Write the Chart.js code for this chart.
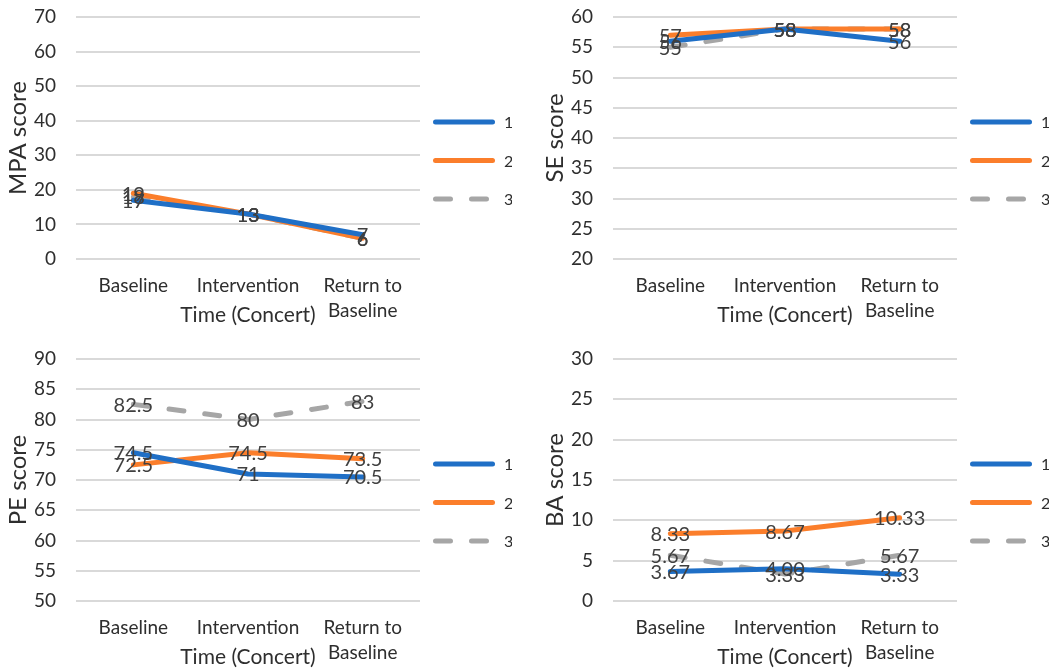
<!DOCTYPE html>
<html>
<head>
<meta charset="utf-8">
<title>Scores over time</title>
<script src="https://cdn.jsdelivr.net/npm/chart.js@4.4.1/dist/chart.umd.min.js"></script>
<style>
  html, body { margin: 0; padding: 0; background: #ffffff; overflow: hidden; }
  #wrap { position: relative; width: 1049px; height: 670px; overflow: hidden; }
  .panel { position: absolute; width: 512px; height: 335px; }
</style>
</head>
<body>
<div id="wrap">
  <div class="panel" style="left:0px;top:0px"><canvas id="mpa" width="512" height="335"></canvas></div>
  <div class="panel" style="left:537px;top:0px"><canvas id="se" width="512" height="335"></canvas></div>
  <div class="panel" style="left:0px;top:342px"><canvas id="pe" width="512" height="335"></canvas></div>
  <div class="panel" style="left:537px;top:342px"><canvas id="ba" width="512" height="335"></canvas></div>
</div>
<script>
// Measurement occasions
const timePoints = ['Baseline', 'Intervention', ['Return to', 'Baseline']];
const seriesNames = ['1', '2', '3'];

// MPA score
const mpa1 = [17, 13, 7];
const mpa2 = [19, 13, 6];
const mpa3 = [18, 13, 6];
const mpaTicks = [0, 70, 10];   // min, max, step

// SE score
const se1 = [56, 58, 56];
const se2 = [57, 58, 58];
const se3 = [55, 58, 58];
const seTicks = [20, 60, 5];

// PE score
const pe1 = [74.5, 71, 70.5];
const pe2 = [72.5, 74.5, 73.5];
const pe3 = [82.5, 80, 83];
const peTicks = [50, 90, 5];

// BA score
const ba1 = [3.67, 4.00, 3.33];
const ba2 = [8.33, 8.67, 10.33];
const ba3 = [5.67, 3.33, 5.67];
const baTicks = [0, 30, 5];

const lineColors = ['#1f6fc6', '#fb7e2b', '#a6a6a6'];
const FONT = 'Lato';
const TEXT = '#2e2e2e';

// Value labels centred on each point, drawn above the lines
const valueLabels = {
  id: 'valueLabels',
  afterDatasetsDraw(chart, args, opts) {
    const ctx = chart.ctx;
    ctx.save();
    ctx.font = '20px ' + FONT;
    ctx.fillStyle = '#404040';
    ctx.textAlign = 'center';
    ctx.textBaseline = 'middle';
    chart.data.datasets.forEach((ds, i) => {
      chart.getDatasetMeta(i).data.forEach((pt, j) => {
        ctx.fillText(opts.format(ds.data[j]), pt.x, pt.y + 1);
      });
    });
    ctx.restore();
  }
};

// Line-sample legend to the right of the plot
const sideLegend = {
  id: 'sideLegend',
  afterDraw(chart) {
    const { ctx, chartArea } = chart;
    const x0 = chartArea.right + 13;
    const len = 62;
    chart.data.datasets.forEach((ds, i) => {
      const y = chartArea.top + 105 + i * 38.5;
      ctx.save();
      ctx.strokeStyle = ds.borderColor;
      ctx.lineWidth = ds.borderWidth;
      ctx.lineCap = 'round';
      ctx.setLineDash(ds.borderDash || []);
      ctx.beginPath();
      ctx.moveTo(x0 + 2.5, y);
      ctx.lineTo(x0 + len - 2.5, y);
      ctx.stroke();
      ctx.restore();
      ctx.save();
      ctx.fillStyle = TEXT;
      ctx.font = '16px ' + FONT;
      ctx.textAlign = 'left';
      ctx.textBaseline = 'middle';
      ctx.fillText(ds.label, x0 + len + 9, y + 1);
      ctx.restore();
    });
  }
};

function makeChart(id, yTitle, series, ticks, format) {
  const [min, max, step] = ticks;
  return new Chart(document.getElementById(id), {
    type: 'line',
    data: {
      labels: timePoints,
      datasets: series.map((values, i) => ({
        label: seriesNames[i],
        data: values,
        borderColor: lineColors[i],
        backgroundColor: lineColors[i],
        borderWidth: 5,
        borderDash: i === 2 ? [15, 21] : [],
        borderCapStyle: 'round',
        borderJoinStyle: 'round',
        pointRadius: 0,
        pointHoverRadius: 0,
        tension: 0,
        fill: false
      }))
    },
    options: {
      responsive: false,
      animation: false,
      devicePixelRatio: 1,
      layout: { padding: { top: 17, right: 92, bottom: 0, left: 0 } },
      plugins: {
        legend: { display: false },
        tooltip: { enabled: false },
        valueLabels: { format }
      },
      scales: {
        x: {
          type: 'category',
          offset: true,
          grid: { display: false, drawTicks: false },
          border: { display: false },
          ticks: {
            color: TEXT,
            font: { family: FONT, size: 19, lineHeight: 1.3 },
            padding: 15,
            maxRotation: 0,
            autoSkip: false
          },
          title: {
            display: true,
            text: 'Time (Concert)',
            color: TEXT,
            font: { family: FONT, size: 21, lineHeight: 1.2 },
            padding: { top: 0, bottom: 7 }
          },
          afterFit(scale) { scale.height = 76; }
        },
        y: {
          min, max,
          grid: { color: '#d9d9d9', lineWidth: 2, drawTicks: false },
          border: { display: false },
          ticks: {
            stepSize: step,
            color: TEXT,
            font: { family: FONT, size: 19 },
            padding: 20
          },
          title: {
            display: true,
            text: yTitle,
            color: TEXT,
            font: { family: FONT, size: 24, lineHeight: 1.2 },
            padding: { top: 4, bottom: 0 }
          },
          afterFit(scale) {
            scale.width = 76;
            scale.paddingTop = 0;
            scale.paddingBottom = 0;
          }
        }
      }
    },
    plugins: [valueLabels, sideLegend]
  });
}

const plain = v => String(v);
const twoDp = v => v.toFixed(2);

function build() {
  makeChart('mpa', 'MPA score', [mpa1, mpa2, mpa3], mpaTicks, plain);
  makeChart('se', 'SE score', [se1, se2, se3], seTicks, plain);
  makeChart('pe', 'PE score', [pe1, pe2, pe3], peTicks, plain);
  makeChart('ba', 'BA score', [ba1, ba2, ba3], baTicks, twoDp);
}

if (document.fonts && document.fonts.load) {
  Promise.all([document.fonts.load('19px Lato'), document.fonts.load('16px Lato')])
    .then(build, build);
} else {
  build();
}
</script>
</body>
</html>
